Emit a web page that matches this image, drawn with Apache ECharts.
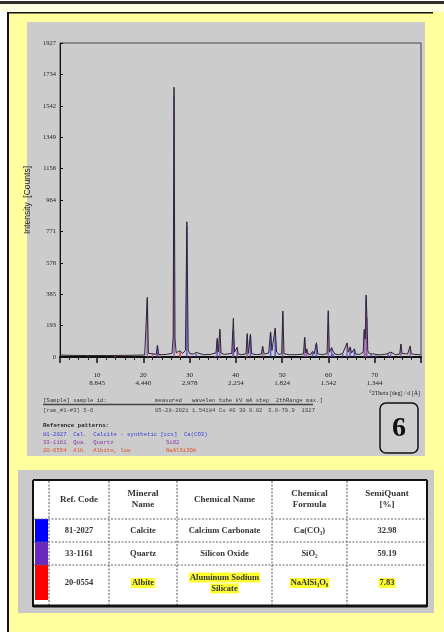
<!DOCTYPE html>
<html><head><meta charset="utf-8">
<script src="https://cdn.jsdelivr.net/npm/echarts@6/dist/echarts.min.js"></script>
<style>html,body{margin:0;padding:0;background:#fff}#c{width:444px;height:632px}</style>
</head><body><div id="c"></div>
<script>
// ---------- DATA ----------
const xMinDeg = 2, xMaxDeg = 80;
const yMaxCounts = 1927;
const yTickStep = 192.7;
const xTickLabels = ['10','20','30','40','50','60','70'];
const dSpacingLabels = ['8.845','4.440','2.978','2.254','1.824','1.542','1.344'];
const yAxisTitle = 'Intensity  [Counts]';
const xAxisTitle = '°2Theta [deg] / d [Å]';

// measured pattern [2theta, counts]
const observedPattern = [
 [2.0,12],[4,10],[8,9],[12,9],[16,10],[18,11],[20.3,12],[20.6,20],[20.86,366],[21.1,22],[21.4,14],[22.0,20],[22.3,14],[22.8,16],
 [23.06,72],[23.3,16],[24.0,14],[25.0,16],[26.2,22],[26.45,120],[26.64,1656],[26.85,110],[27.1,26],[27.5,32],[27.9,38],[28.1,30],
 [28.5,22],[29.1,40],[29.41,830],[29.7,45],[30.0,22],[30.8,18],[31.4,28],[31.8,18],[33,14],[34.5,16],[35.7,25],[35.97,115],
 [36.2,30],[36.54,172],[36.8,24],[37.5,16],[38.5,20],[38.8,30],[39.1,22],[39.46,237],[39.7,30],[40.0,22],[40.29,60],[40.5,18],
 [41.3,14],[42.2,20],[42.45,144],[42.7,22],[43.15,140],[43.4,20],[44.5,14],[45.5,18],[45.79,66],[46.1,18],[47.1,24],[47.5,154],
 [47.8,40],[48.2,40],[48.5,178],[48.8,30],[49.3,16],[49.9,20],[50.14,282],[50.4,20],[51.5,14],[53,14],[54.6,18],[54.87,121],
 [55.1,24],[55.32,50],[55.6,18],[56.2,16],[56.57,35],[56.9,18],[57.4,87],[57.7,20],[58.5,14],[59.7,20],[59.96,284],[60.2,30],
 [60.7,58],[61.0,36],[61.4,18],[62.2,14],[63.1,22],[63.5,16],[64.03,87],[64.3,30],[64.7,62],[65.0,25],[65.6,50],[65.9,18],
 [66.8,16],[67.5,30],[67.74,170],[67.95,110],[68.14,380],[68.3,260],[68.5,40],[68.8,20],[69.2,22],[70,18],[70.5,14],[71.5,14],
 [72.5,18],[72.9,26],[73.46,30],[73.8,18],[74.5,14],[75.4,18],[75.66,80],[75.9,22],[76.6,20],[77.1,18],[77.67,68],[77.9,20],
 [78.5,16],[79.9,14]
];
// reference sticks [2theta, counts]
const calciteSticks = [[23.06,65],[29.41,800],[31.42,20],[35.97,105],[39.40,160],[43.15,130],[47.50,145],[48.50,165],[56.57,28],
 [57.40,80],[60.68,50],[61.0,20],[63.06,18],[64.68,55],[65.6,45],[69.2,15],[70.2,10],[72.9,20]];
const quartzSticks = [[20.86,350],[26.64,1600],[36.54,160],[39.46,110],[40.29,55],[42.45,135],[45.79,60],[50.14,270],[54.87,115],
 [55.32,38],[59.96,270],[64.03,80],[67.74,160],[68.14,360],[68.3,240],[73.46,28],[75.66,75],[77.67,62]];
const albiteSticks = [[13.9,8],[22.0,20],[23.6,10],[27.9,35],[28.0,25],[30.2,10],[35.5,8],[42.3,8]];

// info text under plot
const sampleHeader = ['[Sample] sample id:', 'measured   wavelen tube kV mA step  2thRange max.]'];
const sampleValues = ['[ram_#1-#3] 5-6', '05-28-2021 1.54184 Cu 40 30 0.02', '3.0-79.9  1927'];
const refTitle = 'Reference patterns:';
const refLines = ['81-2027  Cal.  Calcite - synthetic [ccs]  Ca(CO3)', '33-1161  Qua.  Quartz', '20-0554  Alb.  Albite, low'];
const refLineFormulas = ['', 'SiO2', 'NaAlSi3O8'];
const panelNumber = '6';

// table
const tableHeaders = ['Ref. Code', 'Mineral\nName', 'Chemical Name', 'Chemical\nFormula', 'SemiQuant\n[%]'];
const refCodes = ['81-2027', '33-1161', '20-0554'];
const mineralNames = ['Calcite', 'Quartz', 'Albite'];
const chemicalNames = [['Calcium Carbonate'], ['Silicon Oxide'], ['Aluminum Sodium', 'Silicate']];
const chemicalFormulas = ['Ca(CO₃)', 'SiO₂', 'NaAlSi₃O₈'];
const semiQuant = ['32.98', '59.19', '7.83'];
const phaseColors = ['#0000ff', '#6a28c0', '#ff0000'];
const highlighted = [false, false, true];

// ---------- RENDER ----------
const chart = echarts.init(document.getElementById('c'), null, {renderer: 'canvas'});
const G = [];
const rect = (x,y,w,h,fill,z) => G.push({type:'rect', z:z===undefined?-10:z, silent:true, shape:{x,y,width:w,height:h}, style:{fill}});
const line = (x1,y1,x2,y2,stroke,lw,dash,z) => G.push({type:'line', z:z||20, silent:true, shape:{x1,y1,x2,y2}, style:{stroke, lineWidth:lw, lineDash:dash||null}});
const text = (t,x,y,font,fill,align,extra) => G.push({type:'text', z:30, silent:true, x, y, style:Object.assign({text:t, font, fill, align:align||'left', verticalAlign:'middle'}, extra||{})});

// page frame
rect(0,0,444,632,'#ffffff',-20);
rect(9,4,435,628,'#ffff9e',-19);
rect(0,4,444,8,'#fdfde2',-18);
rect(0,1,444,3,'#2c2c2c',-17);
rect(7,12,2,620,'#111',-16);
rect(7,12,426,1.5,'#111',-16);
rect(27,22,398,434,'#cccccc',-15);
rect(18,470,416,143,'#c9c9c9',-15);

// info text
const mono = '5.6px "Liberation Mono"';
text(sampleHeader[0],43,401,mono,'#333');
text(sampleHeader[1],155,401,mono,'#333');
line(43,404.5,313,404.5,'#444',1.5);
text(sampleValues[0],43,411,mono,'#444');
text(sampleValues[1],155,411,mono,'#444');
text(sampleValues[2],268,411,mono,'#444');
text(refTitle,43,426,'bold 5.8px "Liberation Mono"','#222');
const refTextColors = ['#3a3ad8','#8a3aa8','#e0502a'];
refLines.forEach((t,i)=>{
  text(t,43,435+i*8,mono,refTextColors[i]);
  if(refLineFormulas[i]) text(refLineFormulas[i],166,435+i*8,mono,refTextColors[i], i===2?{backgroundColor:'#ffb070',padding:[0,2]}:{});
});
text(xAxisTitle,420,393,'6px "Liberation Serif"','#222','right');
G.push({type:'rect', z:25, silent:true, shape:{x:380,y:403,width:38,height:50,r:6}, style:{fill:'#cfcfcf', stroke:'#111', lineWidth:1.5}});
text(panelNumber,399,429,'bold 28px "Liberation Serif"','#111','center');

// table
const colX = [33,49,109,177,272,347,427];
const rowY = [480,519,542,565,606];
rect(33,480,394,126,'#ffffff',-14);
for(let i=0;i<3;i++) rect(35,rowY[i+1],13, (i===2?600:rowY[i+2]) - rowY[i+1], phaseColors[i], 5);
for(let c=1;c<6;c++) line(colX[c],481,colX[c],605,'#555',1,[2,1.5]);
for(let r=1;r<4;r++) line(34,rowY[r],426,rowY[r],'#666',1,[2,1.5]);
line(33,480,427,480,'#111',2);
line(33,606,427,606,'#111',3);
line(33,480,33,607,'#111',2);
line(427,480,427,607,'#111',2);
const hdrFont = 'bold 9px "Liberation Serif"';
tableHeaders.forEach((h,i)=>{
  const cx = (colX[i+1]+colX[i+2])/2;
  text(h,cx,499.5,hdrFont,'#333','center',{lineHeight:11});
});
const cellFont = 'bold 8.5px "Liberation Serif"';
const hl = {backgroundColor:'#ffff30', padding:[1,1,0,1]};
for(let r=0;r<3;r++){
  const cy = r===2 ? 583 : (rowY[r+1]+rowY[r+2])/2;
  const ex = highlighted[r] ? hl : {};
  const cols = [refCodes[r], mineralNames[r], null, chemicalFormulas[r], semiQuant[r]];
  cols.forEach((v,c)=>{
    const cx = (colX[c+1]+colX[c+2])/2;
    if(c===2){
      const lines = chemicalNames[r];
      lines.forEach((l,k)=> text(l,cx,cy+(k-(lines.length-1)/2)*11,cellFont,'#333','center',ex));
    } else {
      text(v,cx,cy,cellFont,'#333','center', c===0?{}:ex);
    }
  });
}

const stickSeries = (name,data,color) => ({
  name, type:'bar', data, xAxisIndex:0, yAxisIndex:0, barWidth:1.6, barGap:'-100%',
  itemStyle:{color, opacity:0.75}, z:3, silent:true
});

chart.setOption({
  animation:false,
  graphic: G,
  grid:{left:60, top:43, width:361, height:314, show:true, borderColor:'#444', borderWidth:1, backgroundColor:'transparent'},
  xAxis:[{
    type:'value', min:xMinDeg, max:xMaxDeg, splitNumber:8,
    axisLine:{show:true, onZero:false, lineStyle:{color:'#111', width:1}},
    axisTick:{show:true, inside:false, length:6, lineStyle:{color:'#111', width:1.5}},
    minorTick:{show:true, splitNumber:5, length:3, lineStyle:{color:'#222'}},
    splitLine:{show:false},
    axisLabel:{margin:14, fontSize:7, lineHeight:8, fontFamily:'Liberation Serif', color:'#222',
      showMinLabel:false, showMaxLabel:false,
      formatter:(v)=>{ const i = xTickLabels.indexOf(String(Math.round(v))); return (i>=0 && Math.abs(v-Math.round(v))<1e-6) ? xTickLabels[i]+'\n'+dSpacingLabels[i] : ''; }}
  },{
    type:'value', position:'top', min:xMinDeg, max:xMaxDeg,
    axisLine:{show:true, lineStyle:{color:'#111', width:2}}, axisTick:{show:false}, axisLabel:{show:false}, splitLine:{show:false}
  }],
  yAxis:{
    type:'value', min:0, max:yMaxCounts, interval:yTickStep,
    name:yAxisTitle, nameLocation:'middle', nameGap:26, nameRotate:90,
    nameTextStyle:{fontSize:8.5, fontFamily:'Liberation Sans', color:'#222'},
    axisLine:{show:true, lineStyle:{color:'#111'}},
    axisTick:{show:true, inside:true, length:3, lineStyle:{color:'#111'}},
    splitLine:{show:false},
    axisLabel:{margin:4, fontSize:6.5, fontFamily:'Liberation Serif', color:'#222', formatter:(v)=>String(Math.round(v))}
  },
  series:[
    {name:'observed', type:'line', data:observedPattern, showSymbol:false, symbol:'none',
     lineStyle:{color:'#2e2436', width:1}, z:4, silent:true},
    stickSeries('Calcite', calciteSticks, '#3c3cd0'),
    stickSeries('Quartz', quartzSticks, '#8a4aa0'),
    stickSeries('Albite', albiteSticks, '#e04060')
  ]
});
</script></body></html>
